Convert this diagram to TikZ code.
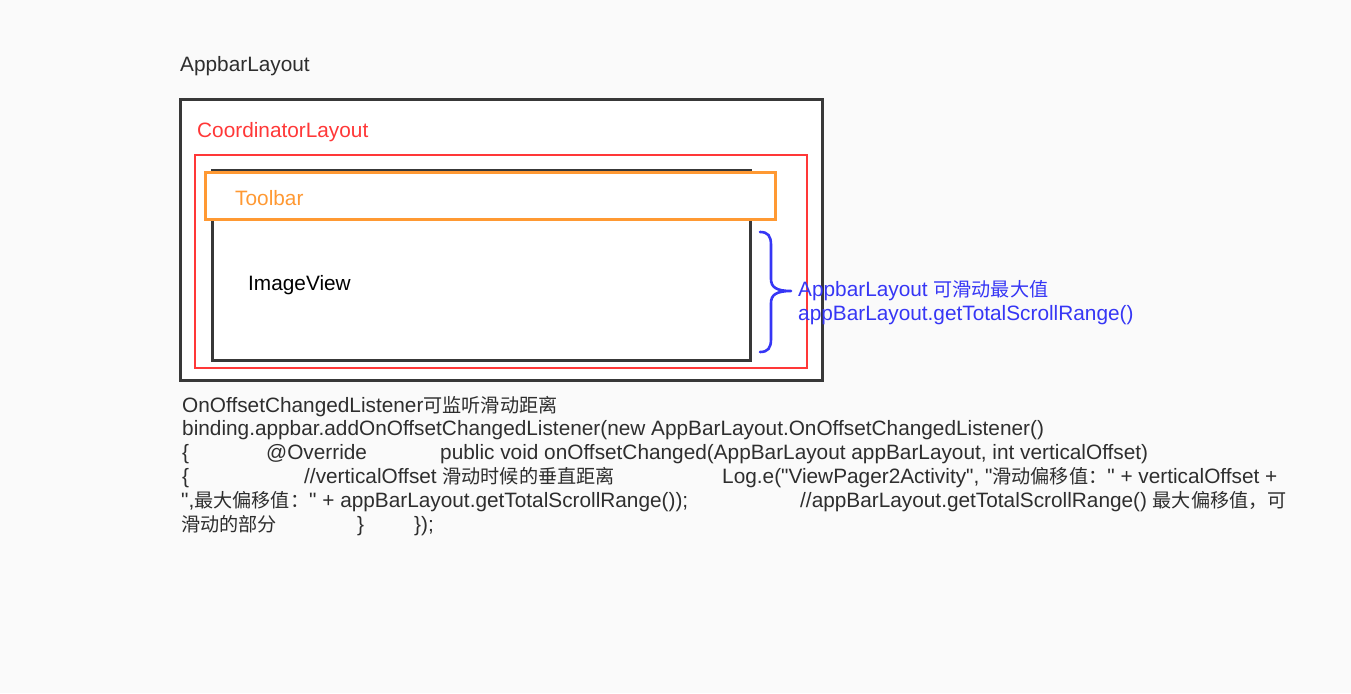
\documentclass[tikz,border=0pt]{standalone}
\usepackage{fontspec}
\setmainfont{Liberation Sans}[Ligatures=TeXOff]
\newfontfamily\cjk{Noto Sans CJK SC}[Scale=0.92]
\definecolor{bgc}{HTML}{FAFAFA}
\definecolor{darkc}{HTML}{383838}
\definecolor{redc}{HTML}{FF3838}
\definecolor{orangec}{HTML}{FF9933}
\definecolor{bluec}{HTML}{3636F5}
\definecolor{txtc}{HTML}{2E2E2E}
\begin{document}
\begin{tikzpicture}[x=1pt,y=-1pt,
  lbl/.style={anchor=base west,inner sep=0pt,font=\fontsize{20.8}{24}\selectfont},
  code/.style={lbl,text=txtc},
  boxline/.style={line width=3pt}]
\useasboundingbox (0,0) rectangle (1351,693);
\fill[bgc] (0,0) rectangle (1351,693);
% outer AppbarLayout box
\draw[boxline,darkc,fill=white] (180,99) rectangle (822,380);
\node[lbl,text=txtc] (tappbar) at (180,71) {AppbarLayout};
\node[lbl,text=redc] (tcoord) at (197,137) {CoordinatorLayout};
% red CoordinatorLayout box
\draw[line width=2.6pt,redc,fill=white] (195,155) rectangle (807,368);
% ImageView box
\draw[boxline,darkc,fill=white] (212,170) rectangle (750,360);
\node[lbl,text=black] (timage) at (248,290) {ImageView};
% Toolbar box
\draw[boxline,orangec,fill=white] (205,172) rectangle (775,219);
\node[lbl,text=orangec] (ttool) at (235,205) {Toolbar};
% brace
\draw[bluec,line width=2.6pt,line cap=round]
  (760,232) .. controls (768,232) and (771,236) .. (771,245)
  -- (771,279) .. controls (771,287) and (776,291) .. (791,291)
  (791,291) .. controls (776,291) and (771,295) .. (771,303)
  -- (771,339) .. controls (771,348) and (768,352) .. (760,352);
\node[lbl,text=bluec] (tb1) at (798,296) {AppbarLayout {\cjk 可滑动最大值}};
\node[lbl,text=bluec] (tb2) at (798,320) {appBarLayout.getTotalScrollRange()};
% code block
\node[code] (c1) at (182,412) {OnOffsetChangedListener{\cjk 可监听滑动距离}};
\node[code] (c2) at (182,435) {binding.appbar.addOnOffsetChangedListener(new AppBarLayout.OnOffsetChangedListener()};
\node[code] (c3a) at (182,459) {\{};
\node[code] (c3b) at (266,459) {@Override};
\node[code] (c3c) at (440,459) {public void onOffsetChanged(AppBarLayout appBarLayout, int verticalOffset)};
\node[code] (c4a) at (182,483) {\{};
\node[code] (c4b) at (304,483) {//verticalOffset {\cjk 滑动时候的垂直距离}};
\node[code] (c4c) at (722,483) {Log.e("ViewPager2Activity", "{\cjk 滑动偏移值：}" + verticalOffset +};
\node[code] (c5a) at (181,507) {",{\cjk 最大偏移值：}" + appBarLayout.getTotalScrollRange());};
\node[code] (c5b) at (800,507) {//appBarLayout.getTotalScrollRange() {\cjk 最大偏移值，可}};
\node[code] (c6a) at (181,531) {{\cjk 滑动的部分}};
\node[code] (c6b) at (357,531) {\}};
\node[code] (c6c) at (414,531) {\});};
\end{tikzpicture}
\end{document}
